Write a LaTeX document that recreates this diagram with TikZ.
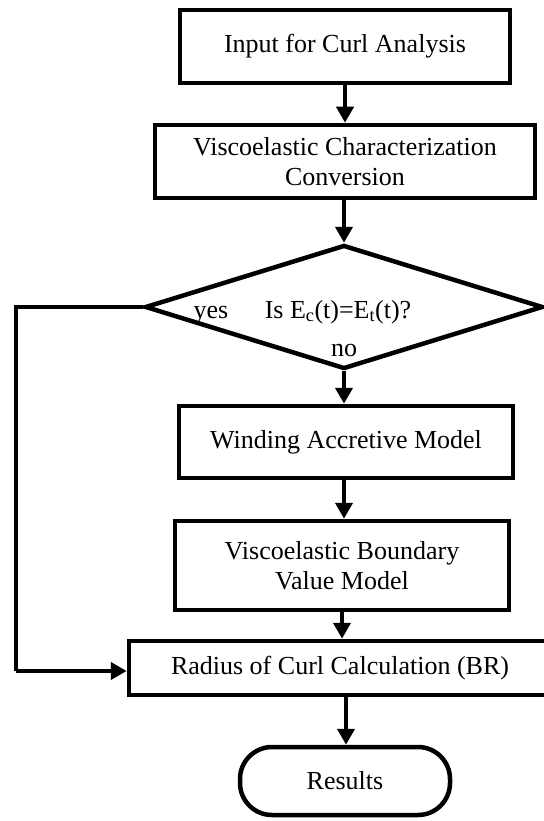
\documentclass[tikz,border=0pt]{standalone}
\usepackage{fontspec}
\setmainfont{Liberation Serif}
\usetikzlibrary{shapes.geometric,arrows.meta,calc}
\begin{document}
\begin{tikzpicture}[x=1pt,y=-1pt,
  every node/.style={font=\fontsize{26}{30}\selectfont, inner sep=0pt, align=center},
  box/.style={draw, line width=4.5pt, rectangle},
  lbl/.style={anchor=base},
  arr/.style={line width=4pt, -{Triangle[length=16pt,width=17pt]}},
  ln/.style={line width=4pt}]
\useasboundingbox (0,0) rectangle (543,821);
\node[box, minimum width=330pt, minimum height=73pt] (in) at (345,46.5) {Input for Curl Analysis};
\node[box, minimum width=380pt, minimum height=73pt] (vc) at (345,161.5) {Viscoelastic Characterization\\Conversion};
\node[draw, line width=4.5pt, diamond, aspect=3.15, minimum width=398pt, minimum height=124pt, inner sep=0pt] (dec) at (344,307) {};
\node[lbl] (q) at (338,318) {Is E\textsubscript{c}(t)=E\textsubscript{t}(t)?};
\node[lbl] (yes) at (211,318) {yes};
\node[lbl] (no) at (344,356) {no};
\node[box, minimum width=334pt, minimum height=72pt] (wa) at (346,442) {Winding Accretive Model};
\node[box, minimum width=334pt, minimum height=89pt] (bv) at (342,565.5) {Viscoelastic Boundary\\Value Model};
\node[box, minimum width=422pt, minimum height=54pt] (rc) at (340,668) {Radius of Curl Calculation (BR)};
\node[draw, line width=4.5pt, rectangle, rounded corners=32pt, minimum width=210pt, minimum height=68pt] (res) at (345,781) {Results};
\coordinate (c1) at (16,307);
\coordinate (c2) at (16,671);
\draw[arr] (in.south -| 345,0) -- (345,0 |- vc.north);
\draw[arr] (vc.south -| 344,0) -- (dec.north);
\draw[arr] (dec.south -| 344,0) -- (344,0 |- wa.north);
\draw[arr] (wa.south -| 344,0) -- (344,0 |- bv.north);
\draw[arr] (bv.south -| 342,0) -- (342,0 |- rc.north);
\draw[arr] (rc.south -| 346,0) -- (346,0 |- res.north);
\draw[ln, line join=miter] (dec.west) -- (c1) -- (c2);
\draw[arr] (c2) -- (c2 -| rc.west);
\end{tikzpicture}
\end{document}
